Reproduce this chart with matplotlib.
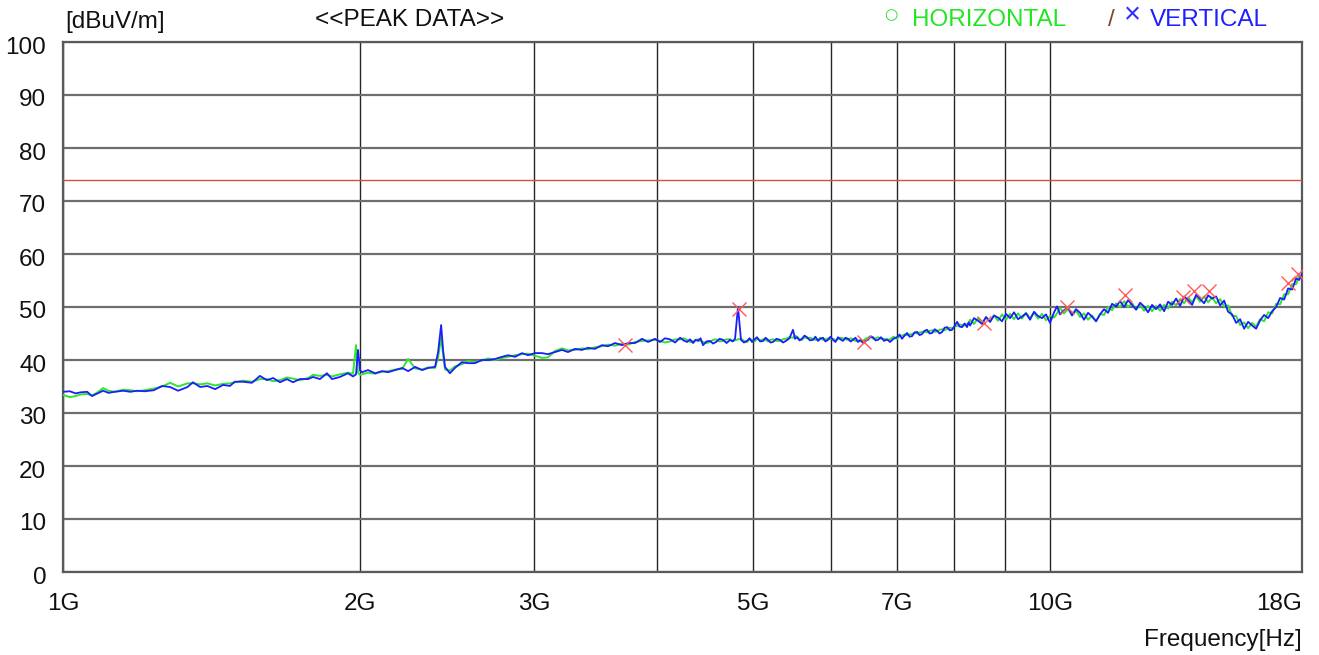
import matplotlib
matplotlib.use("Agg")
import matplotlib.pyplot as plt
from matplotlib.ticker import FixedLocator, NullFormatter
from matplotlib.transforms import ScaledTranslation

plt.rcParams['font.family'] = ['Liberation Sans', 'DejaVu Sans']

# ---------------- data (frequency in GHz, level in dBuV/m) ----------------
FREQ_1 = [1.000, 1.016, 1.030, 1.042, 1.058, 1.070, 1.084, 1.098, 1.112, 1.128,
          1.151, 1.170, 1.189, 1.210, 1.236, 1.260, 1.284, 1.308, 1.337, 1.354,
          1.377, 1.400, 1.426, 1.453, 1.476, 1.493, 1.522, 1.554, 1.583, 1.609,
          1.633, 1.659, 1.686, 1.710, 1.738, 1.771, 1.792, 1.821, 1.851, 1.873,
          1.908, 1.944, 1.967, 1.981, 1.990, 2.000, 2.009]
VERT_1 = [34.0, 34.1, 33.7, 33.9, 34.0, 33.2, 33.7, 34.2, 33.8, 34.0,
          34.2, 34.0, 34.2, 34.1, 34.3, 35.1, 34.9, 34.2, 34.9, 35.8,
          34.9, 35.1, 34.5, 35.3, 35.1, 35.9, 35.9, 35.7, 37.0, 36.2,
          36.6, 35.8, 36.4, 35.8, 36.4, 36.4, 36.8, 36.4, 37.5, 36.4,
          36.8, 37.5, 36.9, 37.3, 41.9, 38.0, 37.7]
HORZ_1 = [33.4, 33.0, 33.2, 33.5, 33.6, 33.3, 33.9, 34.7, 34.2, 34.0,
          34.4, 34.3, 34.1, 34.3, 34.6, 35.0, 35.7, 35.0, 35.6, 35.6,
          35.4, 35.6, 35.2, 35.5, 35.6, 35.8, 36.1, 35.9, 36.4, 36.4,
          36.0, 36.2, 36.7, 36.5, 36.2, 36.6, 37.2, 37.0, 37.2, 36.9,
          37.3, 37.6, 37.4, 42.8, 37.6, 37.2, 37.3]

FREQ_2 = [2.037, 2.071, 2.105, 2.135, 2.170, 2.206, 2.237, 2.274, 2.311, 2.344,
          2.382, 2.399, 2.416, 2.427, 2.438, 2.466, 2.495, 2.536, 2.572, 2.614,
          2.657, 2.695, 2.740, 2.785, 2.824, 2.871, 2.918, 2.959, 3.008, 3.057,
          3.100, 3.151, 3.203, 3.248, 3.301, 3.356, 3.402, 3.459, 3.516, 3.566,
          3.625, 3.685, 3.737, 3.798, 3.861, 3.915, 3.979]
VERT_2 = [38.1, 37.5, 37.9, 37.7, 38.1, 38.5, 37.9, 38.7, 38.1, 38.5,
          38.7, 41.5, 46.6, 41.9, 38.7, 37.5, 38.5, 39.6, 39.4, 39.4,
          40.0, 40.0, 40.2, 40.6, 40.9, 40.6, 41.3, 40.9, 41.3, 41.3,
          41.1, 41.5, 41.9, 41.5, 42.1, 41.9, 42.3, 42.1, 42.8, 42.6,
          43.2, 42.8, 43.2, 43.2, 44.0, 43.4, 44.0]
HORZ_2 = [37.6, 37.4, 37.8, 37.9, 38.2, 38.3, 40.2, 38.4, 38.2, 38.6,
          38.5, 40.5, 44.3, 41.0, 38.2, 38.0, 38.8, 39.2, 39.8, 39.6,
          39.9, 40.3, 40.0, 40.4, 40.6, 40.9, 41.1, 41.2, 40.8, 40.4,
          40.5, 41.7, 42.2, 41.8, 41.9, 42.2, 42.0, 42.4, 42.6, 42.9,
          42.7, 43.1, 42.9, 43.4, 43.6, 43.7, 43.8]

FREQ_3 = [4.026, 4.073, 4.121, 4.170, 4.219, 4.253, 4.288, 4.318, 4.349, 4.375,
          4.400, 4.425, 4.451, 4.487, 4.524, 4.556, 4.588, 4.626, 4.664, 4.702,
          4.741, 4.768, 4.796, 4.829, 4.863, 4.897, 4.932, 4.961, 4.990, 5.019,
          5.048, 5.085, 5.122, 5.150, 5.179, 5.209, 5.240, 5.283, 5.326, 5.363,
          5.401, 5.445, 5.490, 5.516, 5.542, 5.574, 5.606, 5.639, 5.672, 5.712,
          5.752, 5.785, 5.819, 5.853, 5.888, 5.922, 5.957, 5.992, 6.027, 6.062,
          6.098, 6.133, 6.169, 6.205, 6.242, 6.278, 6.315, 6.352, 6.389, 6.427,
          6.465, 6.502, 6.540, 6.578, 6.617, 6.656, 6.695, 6.742, 6.789, 6.836,
          6.884, 6.941, 6.998, 7.039, 7.080, 7.122, 7.164, 7.206, 7.248, 7.290,
          7.333, 7.376, 7.419, 7.462, 7.505, 7.550, 7.596, 7.640, 7.685, 7.730,
          7.775, 7.820, 7.866, 7.912, 7.958, 8.004, 8.051, 8.098, 8.145, 8.192,
          8.240, 8.269]
VERT_3 = [43.4, 44.1, 43.9, 43.3, 44.2, 43.7, 43.4, 43.9, 43.2, 43.8,
          43.6, 44.1, 42.8, 43.5, 43.6, 43.1, 43.4, 44.0, 43.8, 43.2,
          43.8, 43.5, 44.0, 50.0, 43.8, 43.3, 43.6, 44.1, 43.4, 43.9,
          44.3, 43.5, 43.6, 44.2, 43.8, 43.3, 43.4, 44.0, 43.8, 43.3,
          43.6, 44.1, 45.7, 44.0, 44.3, 43.7, 44.0, 44.6, 44.3, 43.7,
          43.8, 44.4, 43.6, 44.0, 44.2, 43.5, 43.8, 44.4, 43.8, 43.4,
          44.3, 43.9, 43.6, 44.2, 44.0, 43.5, 43.8, 44.2, 43.4, 43.8,
          43.2, 43.6, 43.8, 44.4, 44.3, 43.7, 43.8, 44.3, 43.6, 43.9,
          43.4, 44.0, 44.3, 44.8, 44.0, 44.6, 45.1, 44.4, 44.5, 45.2,
          45.3, 44.7, 44.9, 45.5, 45.7, 45.0, 45.1, 45.8, 45.5, 45.0,
          45.3, 46.1, 46.2, 45.6, 45.7, 46.4, 47.2, 46.3, 46.2, 46.9,
          46.2, 47.1]
HORZ_3 = [43.6, 43.3, 43.5, 43.9, 43.9, 44.1, 43.8, 43.4, 43.5, 43.8,
          43.9, 43.6, 43.4, 43.2, 43.4, 43.8, 43.9, 43.5, 43.6, 43.9,
          43.9, 43.6, 43.7, 43.9, 44.0, 43.6, 43.4, 43.9, 43.8, 43.5,
          44.0, 43.7, 43.9, 43.8, 43.5, 43.8, 43.9, 43.6, 43.6, 43.9,
          44.0, 44.3, 44.2, 44.6, 44.4, 43.9, 43.8, 44.3, 44.1, 44.2,
          44.0, 43.8, 43.9, 44.2, 43.8, 43.9, 44.1, 43.9, 44.0, 43.7,
          43.9, 44.2, 44.1, 43.9, 43.8, 44.1, 43.9, 43.6, 43.7, 43.5,
          43.6, 44.0, 44.2, 44.5, 44.0, 44.1, 44.3, 44.0, 44.0, 43.8,
          43.9, 44.4, 44.0, 44.5, 44.6, 44.8, 44.7, 44.8, 44.9, 45.1,
          45.0, 45.2, 45.3, 45.4, 45.2, 45.5, 45.6, 45.3, 45.4, 45.7,
          45.8, 45.6, 45.9, 46.1, 46.0, 46.3, 46.4, 46.7, 46.6, 46.5,
          46.8, 46.9]

FREQ_4 = [8.298, 8.375, 8.454, 8.533, 8.613, 8.694, 8.775, 8.857, 8.940, 9.024,
          9.109, 9.194, 9.280, 9.367, 9.455, 9.544, 9.634, 9.724, 9.815, 9.907,
          10.000, 10.094, 10.165, 10.236, 10.332, 10.429, 10.526, 10.625, 10.725, 10.825,
          10.927, 11.029, 11.133, 11.237, 11.343, 11.449, 11.557, 11.665, 11.775, 11.885,
          11.997, 12.109, 12.223, 12.338, 12.453, 12.570, 12.688, 12.807, 12.927, 13.049,
          13.171, 13.294, 13.419, 13.545, 13.672, 13.800, 13.930, 14.060, 14.192, 14.325,
          14.460, 14.595, 14.732, 14.870, 15.010, 15.150, 15.292, 15.436, 15.580, 15.727,
          15.874, 16.023, 16.173, 16.325, 16.478, 16.632, 16.788, 16.946, 17.104, 17.265,
          17.427, 17.590, 17.755, 17.880, 18.000]
VERT_4 = [46.5, 47.9, 47.4, 46.8, 48.1, 47.2, 48.4, 48.0, 47.3, 48.7,
          47.9, 49.0, 47.7, 48.2, 48.8, 47.6, 49.1, 48.3, 47.9, 48.6,
          47.0, 49.0, 50.1, 48.6, 49.4, 49.9, 48.4, 49.6, 48.9, 47.6,
          48.9, 48.2, 47.3, 48.6, 49.6, 48.9, 50.6, 50.1, 51.1, 50.0,
          51.3, 50.4, 49.5, 50.8, 50.1, 49.0, 50.4, 49.6, 50.5, 49.2,
          51.0, 50.4, 51.6, 50.2, 52.0, 51.3, 50.4, 52.3, 51.5, 50.7,
          52.2, 51.6, 52.0, 50.3, 51.2, 49.1, 48.6, 47.0, 47.7, 45.9,
          47.2, 46.5, 45.9, 47.5, 48.5, 47.9, 49.2, 50.0, 51.7, 51.4,
          53.5, 53.3, 55.4, 55.1, 56.3]
HORZ_4 = [47.6, 46.8, 47.9, 46.9, 48.1, 47.2, 48.4, 47.4, 48.6, 47.6,
          48.7, 47.7, 48.8, 47.8, 48.9, 47.9, 48.9, 47.8, 48.7, 47.5,
          48.3, 48.0, 48.8, 49.8, 48.8, 49.6, 48.5, 49.3, 48.1, 48.8,
          47.6, 48.4, 47.3, 48.7, 48.5, 50.0, 49.4, 50.7, 50.0, 51.1,
          50.0, 50.7, 49.5, 50.4, 49.3, 50.2, 49.2, 50.2, 49.3, 50.4,
          49.7, 51.0, 50.3, 51.5, 50.7, 51.8, 50.9, 52.0, 51.0, 52.0,
          50.9, 51.8, 50.7, 51.5, 50.1, 50.3, 48.3, 48.3, 46.6, 47.1,
          46.0, 47.0, 46.3, 47.7, 47.3, 49.0, 48.8, 50.6, 50.5, 52.4,
          52.4, 54.3, 54.3, 55.9, 55.8]

PEAK_FREQ = [3.71, 4.84, 6.48, 8.58, 10.40, 11.90, 13.64, 13.99, 14.49, 17.43, 17.84]
PEAK_LEVEL = [42.8, 49.6, 43.4, 47.0, 50.0, 52.3, 51.9, 53.0, 53.0, 54.5, 56.2]

LIMIT = 74.0

XTICKS = [1, 2, 3, 5, 7, 10, 18]
XTICK_LABELS = ['1G', '2G', '3G', '5G', '7G', '10G', '18G']
XMINOR = [4, 6, 8, 9]
YTICKS = [0, 10, 20, 30, 40, 50, 60, 70, 80, 90, 100]

FREQ = FREQ_1 + FREQ_2 + FREQ_3 + FREQ_4
VERT = VERT_1 + VERT_2 + VERT_3 + VERT_4
HORZ = HORZ_1 + HORZ_2 + HORZ_3 + HORZ_4

# ---------------- figure ----------------
W, H = 1319, 655
fig = plt.figure(figsize=(W / 100, H / 100), dpi=100)
ax = fig.add_axes([63 / W, 1 - 572 / H, (1302 - 63) / W, (572 - 42) / H])
ax.set_xscale('log')
ax.set_xlim(1, 18)
ax.set_ylim(0, 100)

ax.xaxis.set_major_locator(FixedLocator(XTICKS))
ax.xaxis.set_minor_locator(FixedLocator(XMINOR))
ax.xaxis.set_minor_formatter(NullFormatter())
ax.set_xticklabels(XTICK_LABELS)
ax.set_yticks(YTICKS)
ax.set_yticklabels([str(v) for v in YTICKS])
ax.tick_params(axis='both', which='both', length=0, labelsize=17.5, labelcolor='#111111')
ax.tick_params(axis='x', pad=15)
ax.tick_params(axis='y', pad=12)

ax.grid(True, axis='x', which='both', color='#262626', lw=1.0, zorder=0)
ax.grid(True, axis='y', which='major', color='#6e6e6e', lw=1.6, zorder=0)
ax.set_axisbelow(True)
for sp in ax.spines.values():
    sp.set_color('#5a5a5a')
    sp.set_linewidth(1.6)

xl = ax.get_xticklabels()
xl[-1].set_horizontalalignment('right')
for lab in ax.get_yticklabels():
    lab.set_transform(lab.get_transform() + ScaledTranslation(0, -3 / 100, fig.dpi_scale_trans))

ax.plot(FREQ, HORZ, color='#2ee62e', lw=1.4, zorder=3, solid_joinstyle='round')
ax.plot(FREQ, VERT, color='#1c1cff', lw=1.3, zorder=4, solid_joinstyle='round')
ax.axhline(LIMIT, color='#e04848', lw=1.0, zorder=5)
ax.plot(PEAK_FREQ, PEAK_LEVEL, linestyle='none', marker='x', markersize=10,
        markeredgewidth=1.0, color='#ff5a5a', zorder=6)

FS = 17.5
fig.text(65 / W, 1 - 22 / H, '[dBuV/m]', fontsize=FS, va='center', ha='left', color='#111111')
fig.text(315 / W, 1 - 20 / H, '<<PEAK DATA>>', fontsize=FS, va='center', ha='left', color='#111111')
fig.text(884 / W, 1 - 15 / H, '○', fontsize=11, va='center', ha='left', color='#22dd22',
         family=['DejaVu Sans'])
fig.text(912 / W, 1 - 20 / H, 'HORIZONTAL', fontsize=FS, va='center', ha='left', color='#22e622')
fig.text(1108 / W, 1 - 20 / H, '/', fontsize=FS, va='center', ha='left', color='#7a4a2a')
fig.text(1124 / W, 1 - 15 / H, '×', fontsize=21, va='center', ha='left', color='#3030ff')
fig.text(1150 / W, 1 - 20 / H, 'VERTICAL', fontsize=FS, va='center', ha='left', color='#2020ff')
fig.text(1302 / W, 1 - 640 / H, 'Frequency[Hz]', fontsize=FS, va='center', ha='right', color='#111111')

fig.savefig('out.png', dpi=100, facecolor='white')
